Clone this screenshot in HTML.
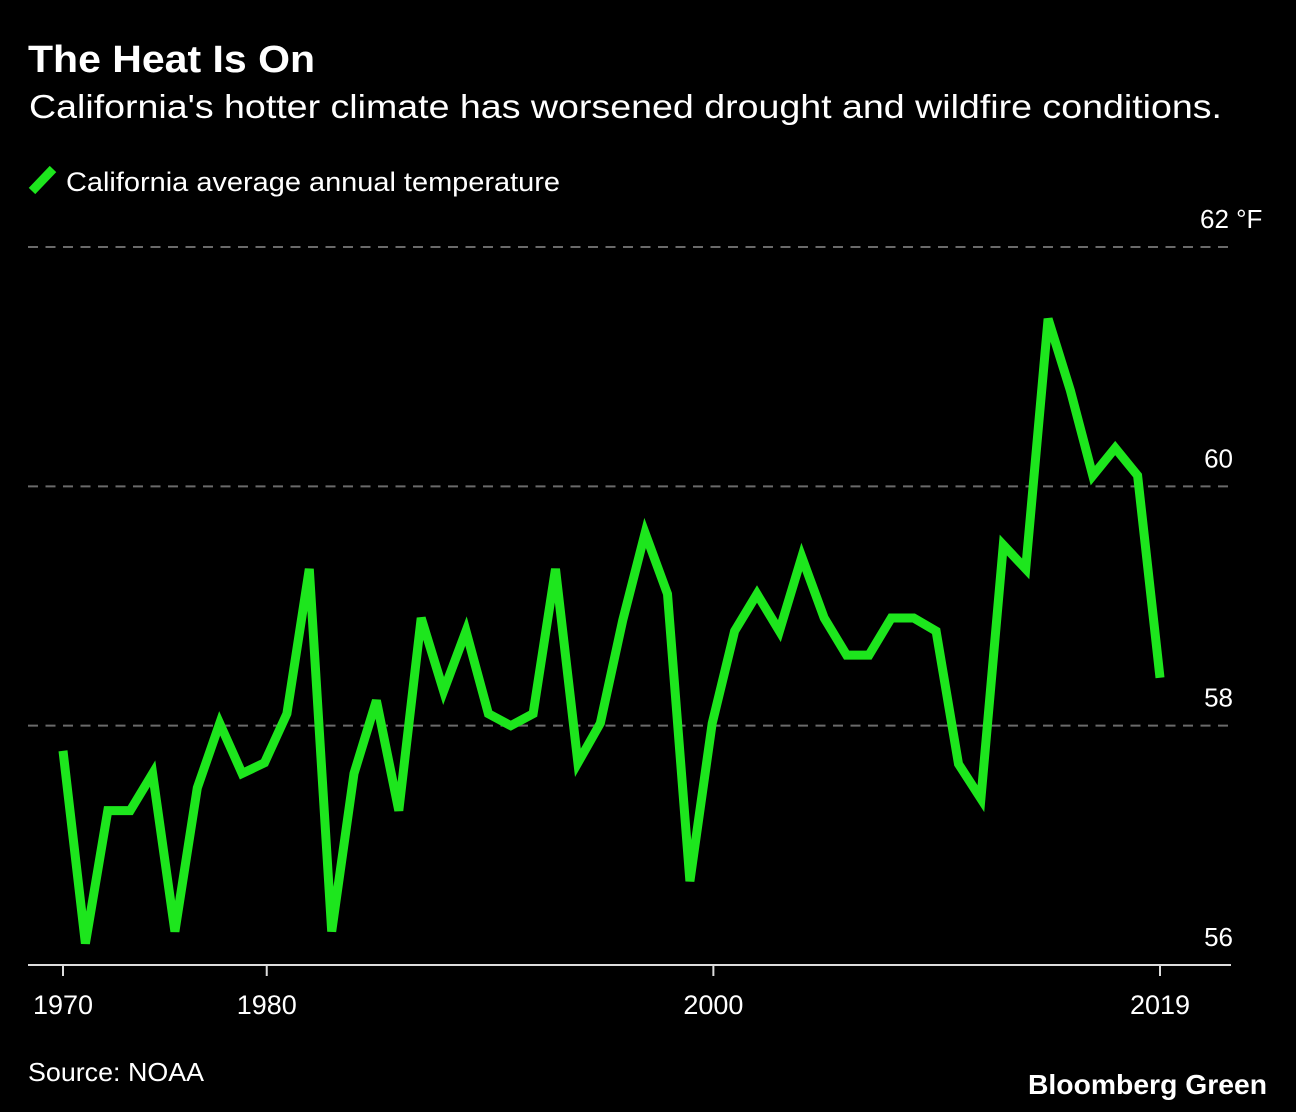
<!DOCTYPE html>
<html><head><meta charset="utf-8"><style>
html,body{margin:0;padding:0;background:#000;width:1296px;height:1112px;overflow:hidden}
svg{display:block}
text{font-family:"Liberation Sans",sans-serif;fill:#fff}
</style></head><body>
<svg id="chart" width="1296" height="1112">
<text x="28" y="72" font-size="38" font-weight="bold" textLength="287" lengthAdjust="spacingAndGlyphs">The Heat Is On</text>
<text x="29" y="118" font-size="33" textLength="1193" lengthAdjust="spacingAndGlyphs">California's hotter climate has worsened drought and wildfire conditions.</text>
<g>
<line x1="32" y1="191" x2="53" y2="169" stroke="#1de61d" stroke-width="9"/>
<text x="66" y="191" font-size="27" textLength="494" lengthAdjust="spacingAndGlyphs">California average annual temperature</text>
</g>
<g id="grid"></g>
<g id="xaxis"></g>
<path id="line" fill="none" stroke="#1de61d" stroke-width="9" stroke-linejoin="miter"/>
<text x="28" y="1081" font-size="26" textLength="176" lengthAdjust="spacingAndGlyphs">Source: NOAA</text>
<text x="1028" y="1094" font-size="28" font-weight="bold" textLength="239" lengthAdjust="spacingAndGlyphs">Bloomberg Green</text>
</svg>
<script>
const years = [1970,1971,1972,1973,1974,1975,1976,1977,1978,1979,1980,1981,1982,1983,1984,1985,1986,1987,1988,1989,1990,1991,1992,1993,1994,1995,1996,1997,1998,1999,2000,2001,2002,2003,2004,2005,2006,2007,2008,2009,2010,2011,2012,2013,2014,2015,2016,2017,2018,2019];
const temps = [57.79,56.18,57.29,57.29,57.6,56.28,57.48,58.02,57.6,57.69,58.1,59.31,56.28,57.6,58.21,57.29,58.9,58.29,58.79,58.1,58.0,58.1,59.31,57.69,58.02,58.88,59.61,59.1,56.7,58.02,58.79,59.1,58.79,59.41,58.9,58.59,58.59,58.9,58.9,58.79,57.68,57.39,59.51,59.31,61.4,60.8,60.09,60.32,60.09,58.4];
const yTicks = [62,60,58,56];
const yTickLabels = ["62 °F","60","58","56"];
const xTicks = [1970,1979.1,1999.05,2019];
const xTickLabels = ["1970","1980","2000","2019"];

const NS = "http://www.w3.org/2000/svg";
function xs(y){ return 63 + (y-1970)*(1160-63)/49; }
function ys(v){ return 965 - (v-56)*(965-247)/6; }

const grid = document.getElementById('grid');
yTicks.forEach((t,i)=>{
  if (t !== 56) {
    const l = document.createElementNS(NS,'line');
    l.setAttribute('x1',28); l.setAttribute('x2',1232);
    l.setAttribute('y1',ys(t)); l.setAttribute('y2',ys(t));
    l.setAttribute('stroke','#6a6a6a'); l.setAttribute('stroke-width','2');
    l.setAttribute('stroke-dasharray','10 7.5');
    
    
    grid.appendChild(l);
  }
  const tx = document.createElementNS(NS,'text');
  if (i === 0) { tx.setAttribute('x',1200); }
  else { tx.setAttribute('x',1233); tx.setAttribute('text-anchor','end'); }
  tx.setAttribute('y',ys(t)-19);
  tx.setAttribute('font-size','26');
  tx.textContent = yTickLabels[i];
  
  
  grid.appendChild(tx);
});

const xa = document.getElementById('xaxis');
const ax = document.createElementNS(NS,'line');
ax.setAttribute('x1',28); ax.setAttribute('x2',1231);
ax.setAttribute('y1',965); ax.setAttribute('y2',965);
ax.setAttribute('stroke','#ddd'); ax.setAttribute('stroke-width','2');


xa.appendChild(ax);
xTicks.forEach((t,i)=>{
  const l = document.createElementNS(NS,'line');
  l.setAttribute('x1',xs(t)); l.setAttribute('x2',xs(t));
  l.setAttribute('y1',965); l.setAttribute('y2',976);
  l.setAttribute('stroke','#ddd'); l.setAttribute('stroke-width','2');
  
  
  xa.appendChild(l);
  const tx = document.createElementNS(NS,'text');
  tx.setAttribute('x',xs(t)); tx.setAttribute('y',1014);
  tx.setAttribute('text-anchor','middle'); tx.setAttribute('font-size','27');
  tx.textContent = xTickLabels[i];
  
  
  xa.appendChild(tx);
});

document.getElementById('line').setAttribute('d',
  years.map((y,i)=>(i?'L':'M')+xs(y).toFixed(1)+','+ys(temps[i]).toFixed(1)).join(' '));
</script>
</body></html>
